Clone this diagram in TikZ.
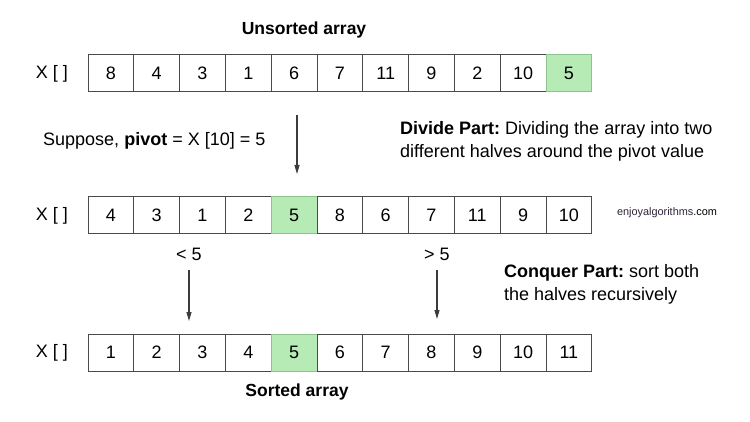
\documentclass[tikz,border=0pt]{standalone}
\usepackage{fontspec}
\setmainfont{Liberation Sans}
\frenchspacing
\usetikzlibrary{arrows.meta}
\definecolor{cellline}{HTML}{4A4A4A}
\definecolor{pivotfill}{HTML}{B7EBB6}
\definecolor{pivotline}{HTML}{8CC48C}
\definecolor{arrowgray}{HTML}{3C3C3C}
\definecolor{brand}{HTML}{2E2238}
\begin{document}
\begin{tikzpicture}[x=1pt,y=-1pt,
  every node/.style={font=\fontsize{18}{23}\selectfont,inner sep=0pt},
  cell/.style={draw=cellline,line width=1pt,minimum width=45.8pt,minimum height=37pt},
  pivotcell/.style={cell,fill=pivotfill,draw=pivotline},
  arr/.style={draw=arrowgray,line width=1.1pt,-{Triangle[length=9pt,width=5pt]}}]
\useasboundingbox (0,0) rectangle (750,422);
\node[font=\fontsize{17.5}{23}\selectfont\bfseries] (title1) at (304,30) {Unsorted array};
\node (name1) at (52,73.5) {X [ ]};
\node[cell] (u1) at (110.9,73.5) {8};
\node[cell] (u2) at (156.7,73.5) {4};
\node[cell] (u3) at (202.5,73.5) {3};
\node[cell] (u4) at (248.3,73.5) {1};
\node[cell] (u5) at (294.1,73.5) {6};
\node[cell] (u6) at (339.9,73.5) {7};
\node[cell] (u7) at (385.7,73.5) {11};
\node[cell] (u8) at (431.5,73.5) {9};
\node[cell] (u9) at (477.3,73.5) {2};
\node[cell] (u10) at (523.1,73.5) {10};
\node[pivotcell] (u11) at (568.9,73.5) {5};
\node[anchor=west] (pivot) at (43,141) {Suppose, \textbf{pivot} = X [10] = 5};
\node[anchor=west,align=left] (divide) at (400,141.5) {\textbf{Divide Part:} Dividing the array into two\\different halves around the pivot value};
\coordinate (a1) at (297,115);
\coordinate (b1) at (297,174);
\draw[arr] (a1) -- (b1);
\node (name2) at (52,215.5) {X [ ]};
\node[cell] (d1) at (110.9,215.5) {4};
\node[cell] (d2) at (156.7,215.5) {3};
\node[cell] (d3) at (202.5,215.5) {1};
\node[cell] (d4) at (248.3,215.5) {2};
\node[pivotcell] (d5) at (294.1,215.5) {5};
\node[cell] (d6) at (339.9,215.5) {8};
\node[cell] (d7) at (385.7,215.5) {6};
\node[cell] (d8) at (431.5,215.5) {7};
\node[cell] (d9) at (477.3,215.5) {11};
\node[cell] (d10) at (523.1,215.5) {9};
\node[cell] (d11) at (568.9,215.5) {10};
\node[font=\fontsize{10.9}{13}\selectfont] (site) at (667,213) {\textcolor{brand}{enjoyalgorithms}.com};
\node (less) at (189,254) {< 5};
\node (more) at (437,254) {> 5};
\coordinate (b2) at (189,321);
\coordinate (b3) at (437,319);
\draw[arr] ([yshift=-10pt]less.south) -- (b2);
\draw[arr] ([yshift=-10pt]more.south) -- (b3);
\node[anchor=west,align=left] (conquer) at (504,284) {\textbf{Conquer Part:} sort both\\the halves recursively};
\node (name3) at (52,352.5) {X [ ]};
\node[cell] (s1) at (110.9,352.5) {1};
\node[cell] (s2) at (156.7,352.5) {2};
\node[cell] (s3) at (202.5,352.5) {3};
\node[cell] (s4) at (248.3,352.5) {4};
\node[pivotcell] (s5) at (294.1,352.5) {5};
\node[cell] (s6) at (339.9,352.5) {6};
\node[cell] (s7) at (385.7,352.5) {7};
\node[cell] (s8) at (431.5,352.5) {8};
\node[cell] (s9) at (477.3,352.5) {9};
\node[cell] (s10) at (523.1,352.5) {10};
\node[cell] (s11) at (568.9,352.5) {11};
\node[font=\fontsize{17.5}{23}\selectfont\bfseries] (title2) at (297,392) {Sorted array};
\end{tikzpicture}
\end{document}
